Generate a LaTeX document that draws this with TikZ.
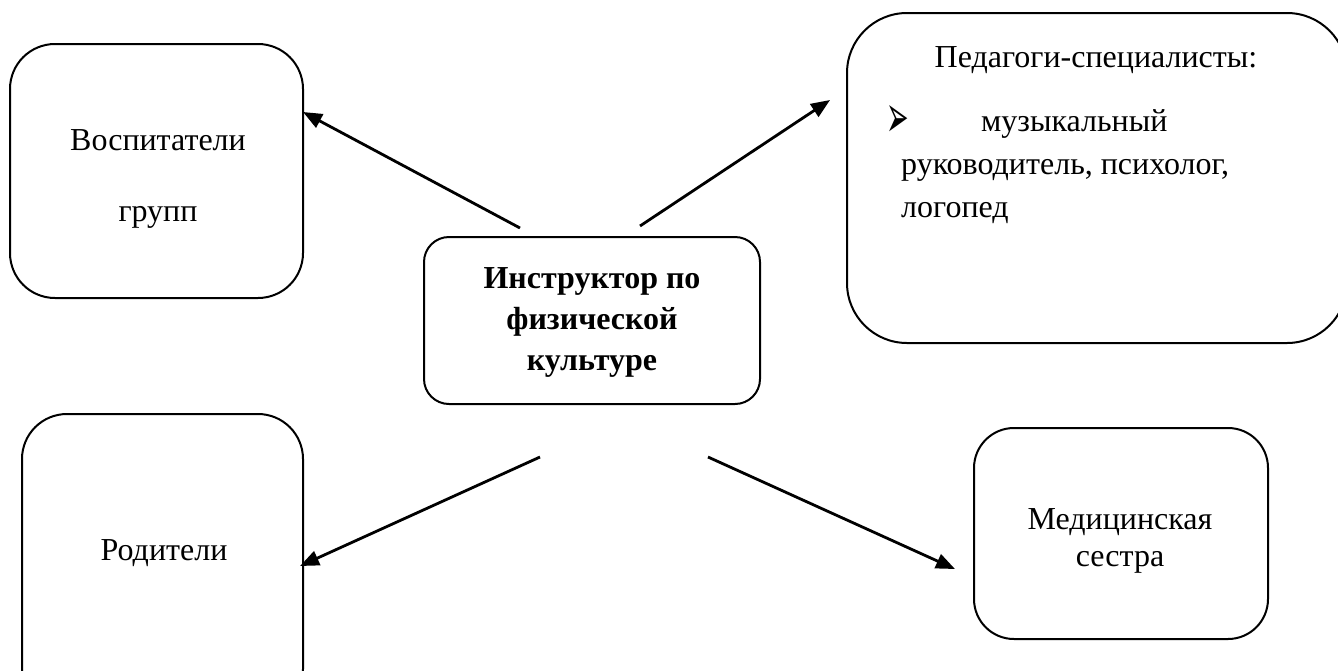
\documentclass[tikz,border=0pt]{standalone}
\usepackage{fontspec}
\usepackage{graphicx}
\setmainfont{Liberation Serif}
\newfontfamily\dingfont{DejaVu Sans}
\usetikzlibrary{arrows.meta}
\tikzset{
  box/.style={draw, line width=2pt, rounded corners=#1, inner sep=0pt},
  lbl/.style={font=\fontsize{32}{38}\selectfont, inner sep=0pt, anchor=base},
  blbl/.style={lbl, font=\fontsize{32}{38}\selectfont\bfseries},
  conn/.style={line width=2.8pt, -{Triangle[length=19pt,width=15pt]}}
}
\begin{document}
\begin{tikzpicture}[x=1pt,y=-1pt]
\useasboundingbox[fill=white] (0,0) rectangle (1338,670);
% boxes
\node[box=45pt, minimum width=293pt, minimum height=254pt] (vos) at (156.5,171) {};
\node[box=60pt, minimum width=500pt, minimum height=330pt] (ped) at (1097,178) {};
\node[box=25pt, minimum width=336pt, minimum height=167pt] (ins) at (592,320.5) {};
\node[box=45pt, minimum width=281pt, minimum height=300pt] (rod) at (162.5,564) {};
\node[box=40pt, minimum width=294pt, minimum height=211pt] (med) at (1121,533.5) {};
% texts
\node[lbl] (t1) at (158,150) {Воспитатели};
\node[lbl] (t2) at (158,221) {групп};
\node[lbl] (t3) at (1096,67) {Педагоги-специалисты:};
\node[inner sep=0pt, font=\dingfont\fontsize{30}{36}\selectfont, anchor=base west] (t4) at (886,137) {\scalebox{0.9}[2]{➢}};
\node[lbl, anchor=base west] (t5) at (981,131) {музыкальный};
\node[lbl, anchor=base west] (t6) at (901,174) {руководитель, психолог,};
\node[lbl, anchor=base west] (t7) at (901,217) {логопед};
\node[blbl] (t8) at (592,288) {Инструктор по};
\node[blbl] (t9) at (592,329) {физической};
\node[blbl] (t10) at (592,370) {культуре};
\node[lbl] (t11) at (164,560) {Родители};
\node[lbl] (t12) at (1120,529) {Медицинская};
\node[lbl] (t13) at (1120,566) {сестра};
% connectors
\coordinate (a1) at (520,228);
\coordinate (b1) at (303,112);
\coordinate (a2) at (640,226);
\coordinate (b2) at (830,100);
\coordinate (a3) at (540,457);
\coordinate (b3) at (300,566);
\coordinate (a4) at (708,457);
\coordinate (b4) at (955,569);
\draw[conn] (a1) -- (b1);
\draw[conn] (a2) -- (b2);
\draw[conn] (a3) -- (b3);
\draw[conn] (a4) -- (b4);
\end{tikzpicture}
\end{document}
